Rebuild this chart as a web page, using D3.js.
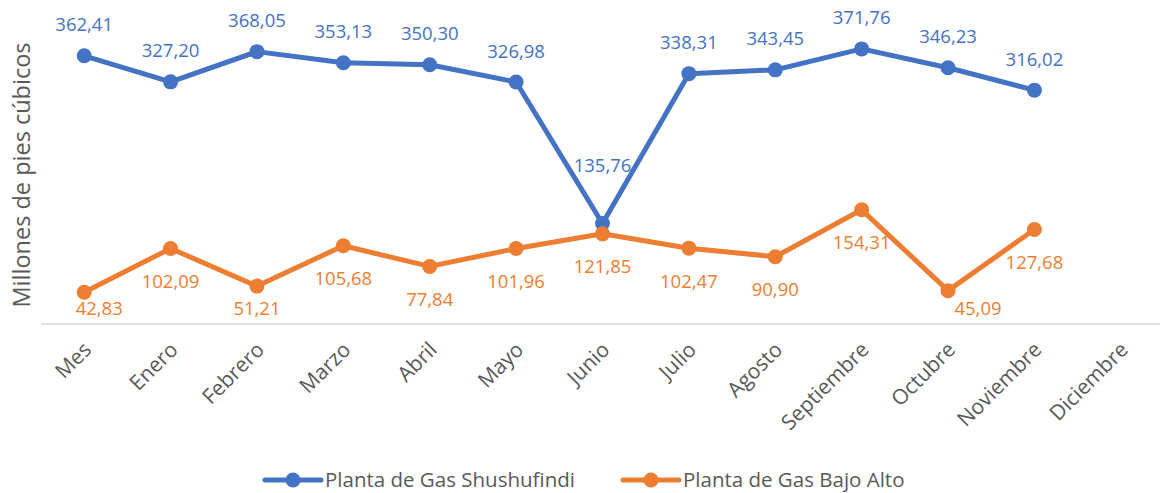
<!DOCTYPE html>
<meta charset="utf-8">
<style>
  body { margin: 0; background: #fff; }
  text { font-family: "Open Sans", "Noto Sans", sans-serif; }
</style>
<body>
<svg width="1160" height="493"></svg>
<script src="https://cdn.jsdelivr.net/npm/d3@7"></script>
<script>

// Data
var months = ["Mes", "Enero", "Febrero", "Marzo", "Abril", "Mayo", "Junio",
              "Julio", "Agosto", "Septiembre", "Octubre", "Noviembre", "Diciembre"];
var shushufindi = [362.41, 327.20, 368.05, 353.13, 350.30, 326.98, 135.76,
                   338.31, 343.45, 371.76, 346.23, 316.02];
var bajoAlto = [42.83, 102.09, 51.21, 105.68, 77.84, 101.96, 121.85,
                102.47, 90.90, 154.31, 45.09, 127.68];
var seriesNames = ["Planta de Gas Shushufindi", "Planta de Gas Bajo Alto"];
var colors = ["#4472C4", "#ED7D31"];

const svg = d3.select("svg");
const grey = "#595959";

// scales - the plot runs a little past the right edge like in the picture
const x = d3.scalePoint().domain(months).range([41, 1164]).padding(0.5);
const y = d3.scaleLinear().domain([0, 400]).range([324, 28]);

const fmt = v => d3.format(".2f")(v).replace(".", ",");

// baseline
svg.append("line")
  .attr("x1", 41).attr("x2", 1164)
  .attr("y1", y(0)).attr("y2", y(0))
  .attr("stroke", "#d9d9d9").attr("stroke-width", 1.5);

// x axis labels (rotated)
const xAxis = svg.append("g")
  .attr("transform", "translate(0," + y(0) + ")")
  .call(d3.axisBottom(x).tickSize(0).tickPadding(0));
xAxis.select(".domain").remove();
xAxis.selectAll("text")
  .attr("fill", grey)
  .style("font-size", "21px")
  .attr("text-anchor", "end")
  .attr("y", 0)
  .attr("dy", 0)
  .attr("transform", "translate(8,27) rotate(-45)");

// y title
svg.append("text")
  .attr("transform", "translate(30,175) rotate(-90)")
  .attr("text-anchor", "middle")
  .attr("fill", grey)
  .style("font-size", "23.5px")
  .text("Millones de pies cúbicos");

const line = d3.line()
  .x((d, i) => x(months[i]))
  .y(d => y(d));

var allSeries = [shushufindi, bajoAlto];

allSeries.forEach(function(vals, s) {
  const g = svg.append("g");
  g.append("path")
    .datum(vals)
    .attr("fill", "none")
    .attr("stroke", colors[s])
    .attr("stroke-width", 5)
    .attr("stroke-linejoin", "round")
    .attr("d", line);

  g.selectAll("circle")
    .data(vals)
    .enter().append("circle")
    .attr("cx", (d, i) => x(months[i]))
    .attr("cy", d => y(d))
    .attr("r", 7.5)
    .attr("fill", colors[s]);

  // data labels: blue above, orange below (a few nudged like excel did)
  g.selectAll("text")
    .data(vals)
    .enter().append("text")
    .attr("x", function(d, i) {
      var dx = 0;
      if (s == 1 && i == 0) dx = 15;
      if (s == 1 && i == 10) dx = 30;
      return x(months[i]) + dx;
    })
    .attr("y", function(d, i) {
      if (s == 0) return y(d) - (i == 6 ? 58 : 31);
      return Math.min(y(d) + 33, 309);
    })
    .attr("dy", "0.35em")
    .attr("text-anchor", "middle")
    .attr("fill", colors[s])
    .style("font-size", "18.5px")
    .text(d => fmt(d));
});

// legend
var legendX = [265, 623];
seriesNames.forEach(function(name, s) {
  const lg = svg.append("g").attr("transform", "translate(" + legendX[s] + ",480)");
  lg.append("line")
    .attr("x1", 0).attr("x2", 56)
    .attr("stroke", colors[s]).attr("stroke-width", 5).attr("stroke-linecap", "round");
  lg.append("circle").attr("cx", 28).attr("r", 7.5).attr("fill", colors[s]);
  lg.append("text")
    .attr("x", 60).attr("dy", "0.35em")
    .attr("fill", grey)
    .style("font-size", "20.5px")
    .text(name);
});

</script>
</body>
